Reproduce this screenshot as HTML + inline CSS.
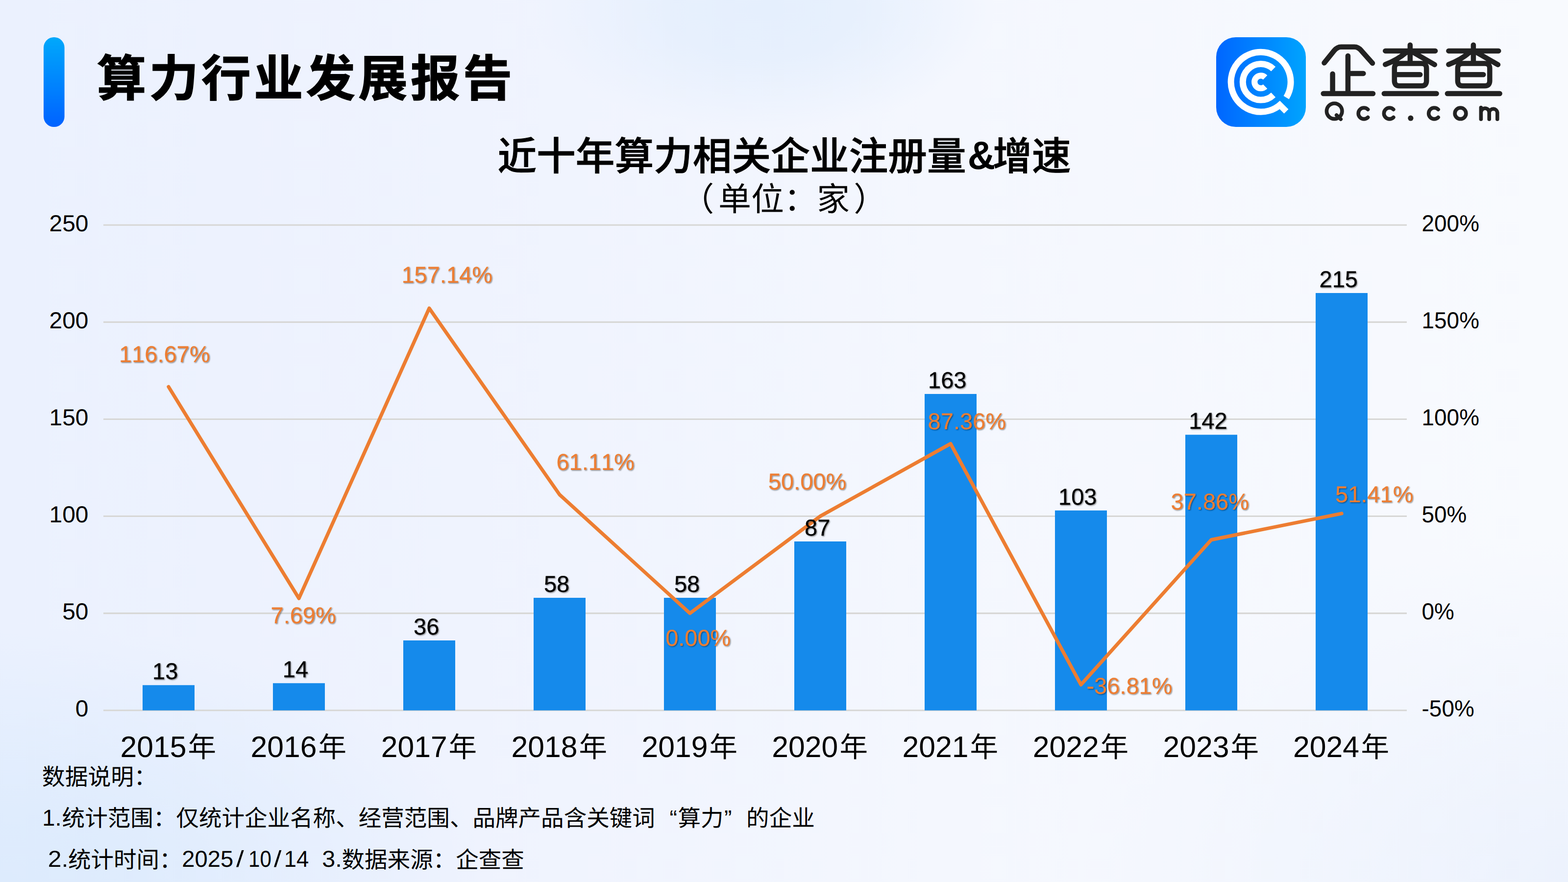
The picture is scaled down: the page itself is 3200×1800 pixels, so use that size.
<!DOCTYPE html>
<html lang="zh-CN"><head><meta charset="utf-8"><title>算力行业发展报告</title>
<style>
html,body{margin:0;padding:0;width:3200px;height:1800px;overflow:hidden;background:#f1f4fd}
body{font-family:"Liberation Sans","Noto Sans CJK SC",sans-serif;position:relative}
#bg{position:absolute;left:0;top:0;width:3200px;height:1800px;
background:
radial-gradient(ellipse 1000px 520px at 0px 1800px, rgba(221,235,253,1) 0%, rgba(221,235,253,.9) 25%, rgba(221,235,253,0) 100%),
radial-gradient(ellipse 470px 250px at 1555px 20px, rgba(229,239,253,1) 0%, rgba(229,239,253,.85) 40%, rgba(229,239,253,0) 100%),
radial-gradient(ellipse 1000px 700px at 3200px 1800px, rgba(235,241,253,.9) 0%, rgba(235,241,253,0) 100%),
linear-gradient(90deg,#ebf1fe 0%,#eff3fe 30%,#f4f7fe 60%,#f8fafe 100%)}
svg{position:absolute;left:0;top:0}
text{font-family:"Liberation Sans","Noto Sans CJK SC",sans-serif;font-kerning:none;white-space:pre;text-rendering:geometricPrecision}
</style></head><body>
<div id="bg"></div>
<svg width="3200" height="1800" viewBox="0 0 3200 1800">
<defs>
<linearGradient id="gbar" x1="0" y1="0" x2="0" y2="1"><stop offset="0" stop-color="#00a8fb"/><stop offset="1" stop-color="#0062ff"/></linearGradient>
<linearGradient id="glogo" x1="0" y1="0" x2="1" y2="0"><stop offset="0" stop-color="#0066ff"/><stop offset="1" stop-color="#00a4fe"/></linearGradient>
<filter id="sh" x="0" y="0" width="3200" height="1800" filterUnits="userSpaceOnUse"><feDropShadow dx="1.5" dy="1.5" stdDeviation="1.0" flood-color="#000" flood-opacity=".45"/></filter>
</defs>
<rect x="89" y="76" width="42.6" height="183" rx="21" fill="url(#gbar)"/>
<g fill="#000" stroke="#000" stroke-width="1.5" stroke-linejoin="miter"><text x="197.8" y="196.2" font-size="100.6" font-weight="bold" letter-spacing="6.1">算力行业发展报告</text></g>
<rect x="2482" y="76" width="183" height="183" rx="40" fill="url(#glogo)"/>
<g fill="none" stroke="#fff" stroke-width="13">
<path d="M2614.70 211.91A61.00 61.00 0 1 1 2625.11 199.17"/>
<path d="M2598.66 193.77A36.80 36.80 0 1 1 2598.66 140.83"/>
<path d="M2582.06 176.58A12.90 12.90 0 1 1 2582.06 158.02" stroke-width="12.2"/>
<path d="M2607.5 209.8L2625 227.3" stroke-width="12.5"/>
</g>
<g role="img" aria-label="企查查" fill="none" stroke="#222" stroke-width="10.5" stroke-linecap="round" stroke-linejoin="round"><path d="M2702.5 128.4 L2722.7 103.4 Q2728.9 95.8 2737.1 95.8 L2764.0 95.8 Q2772.1 95.8 2778.3 103.4 L2801.0 129.0 M2750.9 114.0 L2750.9 191.0 M2750.9 149.9 L2782.4 149.9 M2719.6 150.7 L2719.6 191.0 M2700.7 191.0 L2802.0 191.0 M2877.8 91.7 L2877.8 128.7 M2827.2 103.9 L2929.1 103.9 M2869.9 106.7 Q2852.8 121.8 2827.2 131.6 M2885.8 107.8 L2927.8 132.0 M2855.9 129.5 L2901.1 129.5 Q2911.2 129.5 2911.2 139.6 L2911.2 165.1 Q2911.2 175.2 2901.1 175.2 L2855.9 175.2 Q2845.8 175.2 2845.8 165.1 L2845.8 139.6 Q2845.8 129.5 2855.9 129.5 Z M2845.8 152.3 L2898.2 152.3 M2824.8 191.0 L2931.6 191.0 M3006.9 91.7 L3006.9 128.7 M2956.4 103.9 L3058.3 103.9 M2999.1 106.7 Q2982.0 121.8 2956.4 131.6 M3014.9 107.8 L3057.0 132.0 M2985.1 129.5 L3030.2 129.5 Q3040.3 129.5 3040.3 139.6 L3040.3 165.1 Q3040.3 175.2 3030.2 175.2 L2985.1 175.2 Q2974.9 175.2 2974.9 165.1 L2974.9 139.6 Q2974.9 129.5 2985.1 129.5 Z M2974.9 152.3 L3027.3 152.3 M2953.9 191.0 L3060.7 191.0"/></g>
<g role="img" aria-label="Qcc.com" fill="none" stroke="#222" stroke-width="7.6" stroke-linecap="round" stroke-linejoin="round"><path d="M2723.2 226.8 m-15.8 0 a15.8 15.8 0 1 0 31.6 0 a15.8 15.8 0 1 0 -31.6 0 M2727.6 235.0 L2736.3 243.2 M2791.6 239.5 A11.4 11.4 0 1 1 2791.6 223.4 M2843.8 239.5 A11.4 11.4 0 1 1 2843.8 223.4 M2935.1 239.5 A11.4 11.4 0 1 1 2935.1 223.4 M2980.5 231.4 m-11.4 0 a11.4 11.4 0 1 0 22.8 0 a11.4 11.4 0 1 0 -22.8 0 M3022.4 219.5 L3022.4 243.2 M3022.4 229.4 A8.4 8.4 0 0 1 3039.2 229.4 L3039.2 243.2 M3039.2 229.4 A8.4 8.4 0 0 1 3055.8 229.4 L3055.8 243.2"/></g>
<circle cx="2878.9" cy="241.2" r="5.6" fill="#222"/>
<g fill="#000"><text x="1015.4" y="346.8" font-size="79.7" font-weight="500" stroke="#000" stroke-width="1">近十年算力相关企业注册量</text><text transform="translate(1974.86 345.20) scale(0.9675 1)" font-size="81.00" font-weight="bold" stroke="none">&amp;</text><text x="2026.2" y="346.8" font-size="79.7" font-weight="500" stroke="#000" stroke-width="1">增速</text></g>
<g fill="#000"><text x="1390.3" y="429.5" font-size="67">（</text><text x="1466" y="429.5" font-size="67">单位：家</text><text x="1742.2" y="429.5" font-size="67">）</text></g>
<path d="M211 1449.70H2871M211 1251.62H2871M211 1053.54H2871M211 855.46H2871M211 657.38H2871M211 459.30H2871" stroke="#d7d7d5" stroke-width="3.1" fill="none"/>
<g class="axis-left" fill="#000"><text transform="translate(153.83 1462.30) scale(1.0150 1)" font-size="47.20">0</text><text transform="translate(127.18 1264.22) scale(1.0150 1)" font-size="47.20">50</text><text transform="translate(100.54 1066.14) scale(1.0150 1)" font-size="47.20">100</text><text transform="translate(100.54 868.06) scale(1.0150 1)" font-size="47.20">150</text><text transform="translate(100.54 669.98) scale(1.0150 1)" font-size="47.20">200</text><text transform="translate(100.54 471.90) scale(1.0150 1)" font-size="47.20">250</text></g>
<g class="axis-right" fill="#000"><text transform="translate(2901.60 1462.30) scale(0.9720 1)" font-size="47.20">-50%</text><text transform="translate(2901.60 1264.22) scale(0.9720 1)" font-size="47.20">0%</text><text transform="translate(2901.60 1066.14) scale(0.9720 1)" font-size="47.20">50%</text><text transform="translate(2901.60 868.06) scale(0.9720 1)" font-size="47.20">100%</text><text transform="translate(2901.60 669.98) scale(0.9720 1)" font-size="47.20">150%</text><text transform="translate(2901.60 471.90) scale(0.9720 1)" font-size="47.20">200%</text></g>
<path d="M291.0 1449.70h106V1398.20h-106zM557.0 1449.70h106V1394.24h-106zM823.0 1449.70h106V1307.08h-106zM1089.0 1449.70h106V1219.93h-106zM1355.0 1449.70h106V1219.93h-106zM1621.0 1449.70h106V1105.04h-106zM1887.0 1449.70h106V803.96h-106zM2153.0 1449.70h106V1041.66h-106zM2419.0 1449.70h106V887.15h-106zM2685.0 1449.70h106V597.96h-106z" fill="#158aeb"/>
<polyline points="344.0,789.4 610.0,1221.2 876.0,629.1 1142.0,1009.5 1408.0,1251.6 1674.0,1053.5 1940.0,905.5 2206.0,1397.4 2472.0,1101.6 2738.0,1048.0" fill="none" stroke="#ed7d31" stroke-width="7.2" stroke-linejoin="round" stroke-linecap="round"/>
<g class="axis-years" fill="#000"><text x="245.38" y="1545.10" font-size="60.70">2015</text><text x="383.6" y="1545.2" font-size="57.5">年</text><text x="511.44" y="1545.10" font-size="60.70">2016</text><text x="649.6" y="1545.2" font-size="57.5">年</text><text x="777.63" y="1545.10" font-size="60.70">2017</text><text x="915.6" y="1545.2" font-size="57.5">年</text><text x="1043.43" y="1545.10" font-size="60.70">2018</text><text x="1181.6" y="1545.2" font-size="57.5">年</text><text x="1309.54" y="1545.10" font-size="60.70">2019</text><text x="1447.6" y="1545.2" font-size="57.5">年</text><text x="1575.29" y="1545.10" font-size="60.70">2020</text><text x="1713.6" y="1545.2" font-size="57.5">年</text><text x="1841.59" y="1545.10" font-size="60.70">2021</text><text x="1979.6" y="1545.2" font-size="57.5">年</text><text x="2107.63" y="1545.10" font-size="60.70">2022</text><text x="2245.6" y="1545.2" font-size="57.5">年</text><text x="2373.44" y="1545.10" font-size="60.70">2023</text><text x="2511.6" y="1545.2" font-size="57.5">年</text><text x="2639.00" y="1545.10" font-size="60.70">2024</text><text x="2777.6" y="1545.2" font-size="57.5">年</text></g>
<g filter="url(#sh)">
<g class="bar-values" fill="#000"><text x="311.10" y="1386.10" font-size="47.00" stroke="#000" stroke-width="0.25">13</text><text x="576.76" y="1382.14" font-size="47.00" stroke="#000" stroke-width="0.25">14</text><text x="844.00" y="1294.98" font-size="47.00" stroke="#000" stroke-width="0.25">36</text><text x="1109.94" y="1207.83" font-size="47.00" stroke="#000" stroke-width="0.25">58</text><text x="1375.94" y="1207.83" font-size="47.00" stroke="#000" stroke-width="0.25">58</text><text x="1642.02" y="1092.94" font-size="47.00" stroke="#000" stroke-width="0.25">87</text><text x="1894.03" y="791.86" font-size="47.00" stroke="#000" stroke-width="0.25">163</text><text x="2160.03" y="1029.56" font-size="47.00" stroke="#000" stroke-width="0.25">103</text><text x="2426.18" y="875.05" font-size="47.00" stroke="#000" stroke-width="0.25">142</text><text x="2692.60" y="585.86" font-size="47.00" stroke="#000" stroke-width="0.25">215</text></g>
<g class="growth-values" fill="#ed7d31"><text x="242.98" y="738.50" font-size="47.00" stroke="#ed7d31" stroke-width="0.15">116.67%</text><text x="552.50" y="1271.70" font-size="47.00" stroke="#ed7d31" stroke-width="0.15">7.69%</text><text x="819.43" y="576.70" font-size="47.00" stroke="#ed7d31" stroke-width="0.15">157.14%</text><text x="1135.49" y="958.80" font-size="47.00" stroke="#ed7d31" stroke-width="0.15">61.11%</text><text x="1358.14" y="1317.90" font-size="47.00" stroke="#ed7d31" stroke-width="0.15">0.00%</text><text x="1567.84" y="999.00" font-size="47.00" stroke="#ed7d31" stroke-width="0.15">50.00%</text><text x="1893.61" y="876.00" font-size="47.00" stroke="#ed7d31" stroke-width="0.15">87.36%</text><text x="2217.42" y="1416.30" font-size="47.00" stroke="#ed7d31" stroke-width="0.15">-36.81%</text><text x="2389.59" y="1040.40" font-size="47.00" stroke="#ed7d31" stroke-width="0.15">37.86%</text><text x="2725.04" y="1025.10" font-size="47.00" stroke="#ed7d31" stroke-width="0.15">51.41%</text></g>
</g>
<g fill="#000"><text x="85.8" y="1602.2" font-size="46.85">数据说明：</text></g>
<g fill="#000"><text x="86.30" y="1684.60" font-size="47.00">1.</text><text x="126.6" y="1686.3" font-size="46.55">统计范围：仅统计企业名称、经营范围、品牌产品含关键词</text><text x="1382" y="1686.3" font-size="46.55" text-anchor="end">“</text><text x="1383.45" y="1686.3" font-size="46.55">算力</text><text x="1478" y="1686.3" font-size="46.55">”</text><text x="1523.1" y="1686.3" font-size="46.55">的企业</text></g>
<g fill="#000"><text transform="translate(97.69 1768.80) scale(1.0602 1)" font-size="47.00">2.</text><text x="138.9" y="1770.6" font-size="46.55">统计时间：</text><text transform="translate(371.33 1768.80) scale(1.0038 1)" font-size="47.00">2025</text><text transform="translate(482.00 1768.80) scale(1.2023 1)" font-size="47.00">/</text><text transform="translate(506.99 1768.80) scale(0.8962 1)" font-size="47.00">10</text><text transform="translate(559.10 1768.80) scale(1.1793 1)" font-size="47.00">/</text><text transform="translate(579.84 1768.80) scale(0.9657 1)" font-size="47.00">14</text><text transform="translate(657.25 1768.80) scale(1.0327 1)" font-size="47.00">3.</text><text x="697.5" y="1770.6" font-size="46.55">数据来源：企查查</text></g>
</svg>
</body></html>
